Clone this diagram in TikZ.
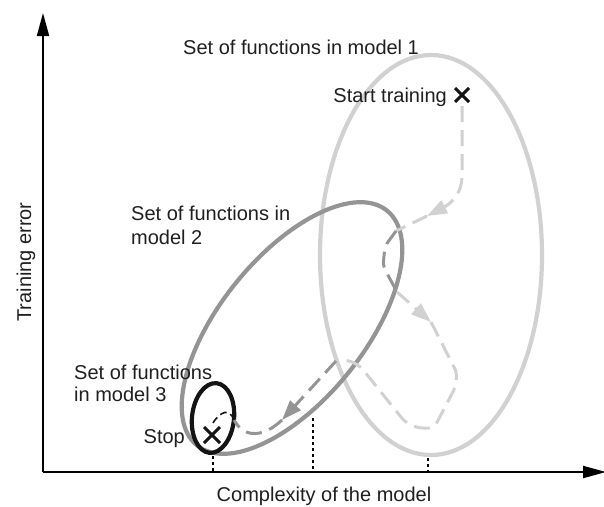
\documentclass[tikz,border=0pt]{standalone}
\usepackage{fontspec}
\setmainfont{Liberation Sans}
\usetikzlibrary{arrows.meta}
\definecolor{setone}{gray}{0.82}
\definecolor{settwo}{gray}{0.58}
\definecolor{setthree}{gray}{0.08}
\definecolor{inktext}{gray}{0.12}
\begin{document}
\begin{tikzpicture}[x=1pt,y=-1pt,
  lbl/.style={inner sep=0pt, text=inktext, font=\fontsize{20}{23}\selectfont},
  axis/.style={line width=2pt, black, -{Triangle[length=23pt,width=12pt]}},
  setring/.style={line width=4.2pt},
  trail/.style={line width=3pt, dash pattern=on 16pt off 8pt, rounded corners=5pt},
  traillight/.style={trail, setone},
  traildark/.style={trail, settwo},
  trailtip/.style={-{Triangle[length=20pt,width=14pt]}},
  trailfine/.style={line width=1.6pt, setthree, dash pattern=on 7pt off 4pt},
  cross/.style={line width=3pt, setthree},
  guide/.style={line width=1.5pt, black, dash pattern=on 3pt off 3pt}]
\useasboundingbox (0,0) rectangle (604,506);

% axes
\coordinate (origin) at (43,472);
\coordinate (ytop) at (43,13);
\coordinate (xend) at (606,472);
\draw[axis] (origin) -- (ytop);
\draw[axis] (origin) -- (xend);
\node[lbl, rotate=90, anchor=base] (ylabel) at (31,262) {Training error};
\node[lbl, anchor=base] (xlabel) at (324,501) {Complexity of the model};

% sets of functions
\draw[setring, setone] (431,255) ellipse [x radius=111, y radius=200];
\draw[setring, settwo, rotate around={51:(292,328)}] (292,328) ellipse [x radius=151, y radius=72];
\draw[setring, setthree, rotate around={-6:(213,418)}] (213,418) ellipse [x radius=21, y radius=35];

% complexity of each set's best function
\coordinate (g1a) at (213,456); \coordinate (g1b) at (213,472);
\coordinate (g2a) at (313,418); \coordinate (g2b) at (313,472);
\coordinate (g3a) at (428,458); \coordinate (g3b) at (428,472);
\draw[guide] (g1a) -- (g1b);
\draw[guide] (g2a) -- (g2b);
\draw[guide] (g3a) -- (g3b);

% labels
\node[lbl, anchor=base west] (m1) at (183,54) {Set of functions in model 1};
\node[lbl, anchor=base west] (m2a) at (131,220) {Set of functions in};
\node[lbl, anchor=base west] (m2b) at (131,244) {model 2};
\node[lbl, anchor=base west] (m3a) at (74,379) {Set of functions};
\node[lbl, anchor=base west] (m3b) at (74,401) {in model 3};
\node[lbl, anchor=base east] (start) at (447,102) {Start training};
\node[lbl, anchor=base east] (stop) at (185,443) {Stop};

% training trajectory
\coordinate (s) at (462,95);
\coordinate (t0) at (462,106);
\coordinate (t1) at (462,172);
\coordinate (tipa) at (427,216);
\coordinate (t2) at (396,231);
\coordinate (t3) at (385,246);
\coordinate (t4) at (383,266);
\coordinate (t5) at (397,292);
\coordinate (tipb) at (431,322);
\coordinate (t6) at (457,373);
\coordinate (t7) at (455,388);
\coordinate (t8) at (434,428);
\coordinate (t9) at (418,428);
\coordinate (t10) at (405,422);
\coordinate (t11) at (360,366);
\coordinate (t12) at (348,360);
\coordinate (t13) at (336,361);
\coordinate (tipc) at (282,420);
\coordinate (t14) at (234,420);
\coordinate (e) at (212,435);

\draw[traillight, trailtip] (t0) -- (t1) .. controls (462,192) and (452,203) .. (tipa);
\draw[traillight] (tipa) -- (t2);
\draw[traildark] (t2) -- (t3) -- (t4) -- (t5);
\draw[traillight, trailtip] (t5) -- (tipb);
\draw[traillight] (tipb) -- (t6) -- (t7) -- (t8) -- (t9) -- (t10) -- (t11) -- (t12) -- (t13);
\draw[traildark, trailtip] (t13) -- (tipc);
\draw[traildark] (tipc) .. controls (265,436) and (245,440) .. (t14);
\draw[trailfine] (t14) .. controls (230,409) and (221,409) .. (211,426);

% start and stop marks
\draw[cross] ([shift={(-7,-7)}]s) -- ([shift={(7,7)}]s);
\draw[cross] ([shift={(-7,7)}]s) -- ([shift={(7,-7)}]s);
\draw[cross] ([shift={(-8,-8)}]e) -- ([shift={(8,8)}]e);
\draw[cross] ([shift={(-8,8)}]e) -- ([shift={(8,-8)}]e);
\end{tikzpicture}
\end{document}
